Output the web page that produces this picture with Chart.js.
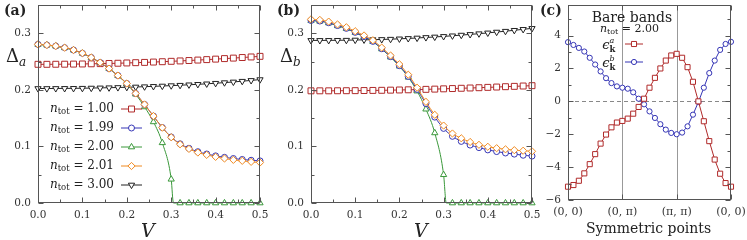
<!DOCTYPE html>
<html>
<head>
<meta charset="utf-8">
<script src="https://cdn.jsdelivr.net/npm/chart.js@4.4.1/dist/chart.umd.min.js"></script>
<style>
  body { margin: 0; background: #fff; }
  #wrap { position: relative; width: 747px; height: 240px; overflow: hidden; font-family: "DejaVu Serif", serif; color: #222; }
  canvas { position: absolute; left: 0; top: 0; }
  .lbl { position: absolute; white-space: nowrap; line-height: 1; }
  .pl { font-weight: bold; font-size: 14px; }
  .ax { font-size: 18px; }
  .vx { font-size: 19px; font-style: italic; }
  sub { font-size: 12px; font-style: italic; vertical-align: -4px; }
</style>
</head>
<body>
<div id="wrap">
  <canvas id="chartA" width="747" height="240"></canvas>
  <canvas id="chartB" width="747" height="240"></canvas>
  <canvas id="chartC" width="747" height="240"></canvas>
  <div class="lbl pl" style="left:4px;top:3px">(a)</div>
  <div class="lbl ax" style="left:6px;top:47px">&Delta;<sub>a</sub></div>
  <div class="lbl vx" style="left:141px;top:221px">V</div>
  <div class="lbl pl" style="left:277px;top:3px">(b)</div>
  <div class="lbl ax" style="left:280px;top:47px">&Delta;<sub>b</sub></div>
  <div class="lbl vx" style="left:414px;top:221px">V</div>
  <div class="lbl pl" style="left:540px;top:3px">(c)</div>
  <div class="lbl" style="left:586px;top:221px;font-size:14px">Symmetric points</div>
</div>
<script>
// V grid used in panels (a) and (b)
const vGrid = [0.00, 0.02, 0.04, 0.06, 0.08, 0.10, 0.12, 0.14, 0.16, 0.18, 0.20, 0.22, 0.24,
               0.26, 0.28, 0.30, 0.32, 0.34, 0.36, 0.38, 0.40, 0.42, 0.44, 0.46, 0.48, 0.50];

// panel (a): Delta_a
const deltaA_n100 = [0.2454, 0.2454, 0.2455, 0.2456, 0.2458, 0.2460, 0.2463, 0.2466, 0.2469, 0.2473, 0.2478, 0.2483, 0.2488,
                     0.2494, 0.2500, 0.2507, 0.2514, 0.2521, 0.2529, 0.2537, 0.2546, 0.2555, 0.2564, 0.2574, 0.2584, 0.2595];
const deltaA_n199 = [0.2807, 0.2795, 0.2777, 0.2748, 0.2707, 0.2650, 0.2575, 0.2485, 0.2378, 0.2255, 0.2114, 0.1938, 0.1744,
                     0.1538, 0.1335, 0.1168, 0.1047, 0.0968, 0.0908, 0.0867, 0.0834, 0.0808, 0.0787, 0.0770, 0.0756, 0.0745];
const deltaA_n200 = [0.2805, 0.2793, 0.2775, 0.2746, 0.2705, 0.2648, 0.2573, 0.2483, 0.2376, 0.2252, 0.2108, 0.1925, 0.1700,
                     0.1435, 0.1065, 0.0420, 0, 0, 0, 0, 0, 0, 0, 0, 0, 0];
const deltaA_n201 = [0.2807, 0.2795, 0.2777, 0.2748, 0.2707, 0.2650, 0.2575, 0.2485, 0.2378, 0.2255, 0.2114, 0.1938, 0.1744,
                     0.1538, 0.1333, 0.1163, 0.1039, 0.0957, 0.0893, 0.0851, 0.0816, 0.0787, 0.0763, 0.0746, 0.0728, 0.0716];
const deltaA_n300 = [0.2026, 0.2026, 0.2027, 0.2028, 0.2029, 0.2031, 0.2034, 0.2037, 0.2040, 0.2044, 0.2048, 0.2053, 0.2058,
                     0.2064, 0.2070, 0.2077, 0.2084, 0.2092, 0.2100, 0.2109, 0.2119, 0.2130, 0.2142, 0.2155, 0.2169, 0.2184];
const gapCloseA = 0.305;   // where the n=2.00 gap hits zero

// panel (b): Delta_b
const deltaB_n100 = [0.1985, 0.1985, 0.1985, 0.1986, 0.1987, 0.1988, 0.1990, 0.1992, 0.1994, 0.1997, 0.2000, 0.2003, 0.2007,
                     0.2011, 0.2015, 0.2020, 0.2025, 0.2030, 0.2035, 0.2040, 0.2046, 0.2052, 0.2058, 0.2064, 0.2070, 0.2076];
const deltaB_n199 = [0.3230, 0.3220, 0.3190, 0.3140, 0.3090, 0.3020, 0.2945, 0.2860, 0.2730, 0.2590, 0.2430, 0.2240, 0.2010,
                     0.1760, 0.1520, 0.1320, 0.1180, 0.1090, 0.1025, 0.0980, 0.0940, 0.0910, 0.0885, 0.0865, 0.0845, 0.0830];
const deltaB_n200 = [0.3225, 0.3215, 0.3185, 0.3135, 0.3085, 0.3015, 0.2940, 0.2855, 0.2725, 0.2580, 0.2420, 0.2225, 0.1980,
                     0.1660, 0.1240, 0.0500, 0, 0, 0, 0, 0, 0, 0, 0, 0, 0];
const deltaB_n201 = [0.3250, 0.3240, 0.3210, 0.3160, 0.3110, 0.3040, 0.2965, 0.2880, 0.2750, 0.2610, 0.2455, 0.2270, 0.2040,
                     0.1790, 0.1560, 0.1370, 0.1230, 0.1145, 0.1080, 0.1030, 0.0995, 0.0970, 0.0950, 0.0935, 0.0925, 0.0915];
const deltaB_n300 = [0.2877, 0.2877, 0.2878, 0.2879, 0.2881, 0.2884, 0.2887, 0.2890, 0.2894, 0.2899, 0.2905, 0.2912, 0.2920,
                     0.2929, 0.2938, 0.2948, 0.2959, 0.2971, 0.2983, 0.2996, 0.3010, 0.3025, 0.3040, 0.3056, 0.3073, 0.3090];
const gapCloseB = 0.306;

// panel (c): bare bands along (0,0)-(0,pi)-(pi,pi)-(0,0)
const kPath = [0, 1, 2, 3, 4, 5, 6, 7, 8, 9, 10, 11, 12, 13, 14, 15, 16, 17, 18, 19, 20,
               21, 22, 23, 24, 25, 26, 27, 28, 29, 30];
const bandA = [-5.19, -5.09, -4.83, -4.38, -3.82, -3.21, -2.57, -2.02, -1.58, -1.29, -1.19,
               -1.05, -0.75, -0.34, 0.16, 0.83, 1.43, 2.00, 2.48, 2.79, 2.89,
               2.65, 2.08, 1.19, 0.00, -1.21, -2.42, -3.54, -4.40, -4.97, -5.19];
const bandB = [3.60, 3.43, 3.25, 3.03, 2.65, 2.24, 1.82, 1.41, 1.11, 0.91, 0.83,
               0.77, 0.55, 0.16, -0.18, -0.61, -1.01, -1.39, -1.72, -1.92, -2.00,
               -1.90, -1.52, -0.81, -0.04, 0.83, 1.72, 2.48, 3.13, 3.49, 3.62];
const kTickPos = [0, 10, 20, 30];
const kTickLabels = ['(0, 0)', '(0, π)', '(π, π)', '(0, 0)'];

const nLabels = ['1.00', '1.99', '2.00', '2.01', '3.00'];
const RED = '#b02a2a', BLUE = '#3535b5', GREEN = '#3a983a', ORANGE = '#f08a20', BLACK = '#222';
const FRAME = '#555';
const serif = '"DejaVu Serif", serif';

function pts(xs, ys) {
  return xs.map((x, i) => ({x: x, y: ys[i]}));
}

function series(label, data, color, style, order, extra) {
  const r = style === 'circle' ? 3 : style === 'rect' ? 4.2 : 3.6;
  return Object.assign({
    label: label, data: data,
    borderColor: color, borderWidth: 1,
    pointStyle: style, pointRadius: r, pointBorderWidth: 1,
    pointBorderColor: color, pointBackgroundColor: '#fff',
    cubicInterpolationMode: 'monotone', clip: false, order: order
  }, extra || {});
}

// green curve: markers on the grid, plus an unmarked point where the gap closes
function gapSeries(ys, closeAt) {
  const data = pts(vGrid, ys);
  let k = data.findIndex(p => p.x > closeAt);
  data.splice(k, 0, {x: closeAt, y: 0});
  const radius = data.map((p, i) => i === k ? 0 : 3.6);
  return {data, radius};
}

// parts with stay:true do not advance the pen (used for stacked super/subscripts)
function drawRich(ctx, parts, xRight, y) {
  let w = 0;
  parts.forEach(p => { ctx.font = p.font; if (!p.stay) w += ctx.measureText(p.t).width; });
  let x = xRight - w;
  parts.forEach(p => {
    ctx.font = p.font;
    ctx.fillText(p.t, x, y + (p.dy || 0));
    if (!p.stay) x += ctx.measureText(p.t).width;
  });
}

function marker(ctx, color, style, r, rot, x, y, x0, x1) {
  ctx.save();
  ctx.strokeStyle = color; ctx.lineWidth = 1;
  ctx.beginPath(); ctx.moveTo(x0, y); ctx.lineTo(x1, y); ctx.stroke();
  ctx.fillStyle = '#fff';
  Chart.helpers.drawPoint(ctx, {pointStyle: style, radius: r, rotation: rot || 0, borderWidth: 1}, x, y);
  ctx.restore();
}

// frame, inward ticks, extra lines and legends
const decor = {
  id: 'decor',
  beforeDatasetsDraw(chart, args, o) {
    const ctx = chart.ctx, a = chart.chartArea;
    ctx.save();
    if (o.vlines) {
      ctx.strokeStyle = '#999'; ctx.lineWidth = 1;
      o.vlines.forEach(v => {
        const x = Math.round(chart.scales.x.getPixelForValue(v)) + 0.5;
        ctx.beginPath(); ctx.moveTo(x, a.top); ctx.lineTo(x, a.bottom); ctx.stroke();
      });
    }
    if (o.zeroLine) {
      const y = Math.round(chart.scales.y.getPixelForValue(0)) + 0.5;
      ctx.strokeStyle = '#888'; ctx.setLineDash([4, 3]);
      ctx.beginPath(); ctx.moveTo(a.left, y); ctx.lineTo(a.right, y); ctx.stroke();
    }
    ctx.restore();
  },
  afterDraw(chart, args, o) {
    const ctx = chart.ctx, a = chart.chartArea;
    const L = Math.round(a.left) + 0.5, R = Math.round(a.right) - 0.5;
    const T = Math.round(a.top) + 0.5, B = Math.round(a.bottom) - 0.5;
    ctx.save();
    ctx.strokeStyle = FRAME; ctx.lineWidth = 1;
    ctx.beginPath();
    o.xTicks.forEach(t => {
      const x = Math.round(chart.scales.x.getPixelForValue(t.v)) + 0.5;
      ctx.moveTo(x, B); ctx.lineTo(x, B - t.len);
      ctx.moveTo(x, T); ctx.lineTo(x, T + t.len);
    });
    o.yTicks.forEach(t => {
      const y = Math.round(chart.scales.y.getPixelForValue(t.v)) + 0.5;
      ctx.moveTo(L, y); ctx.lineTo(L + t.len, y);
      ctx.moveTo(R, y); ctx.lineTo(R - t.len, y);
    });
    ctx.stroke();
    ctx.strokeRect(L, T, R - L, B - T);

    ctx.fillStyle = '#222'; ctx.textBaseline = 'middle';
    (o.legend || []).forEach(e => {
      drawRich(ctx, e.parts, e.textRight, e.ty || e.y);
      marker(ctx, e.color, e.style, e.r, e.rot, (e.x0 + e.x1) / 2, e.y, e.x0, e.x1);
    });
    (o.texts || []).forEach(e => {
      ctx.textAlign = 'center'; ctx.font = e.font; ctx.fillText(e.t, e.x, e.y);
    });
    (o.rich || []).forEach(e => { ctx.textAlign = 'left'; drawRich(ctx, e.parts, e.right, e.y); });
    ctx.restore();
  }
};

function tickList(min, max, step, majorEvery) {
  const out = [];
  const n = Math.round((max - min) / step);
  for (let i = 0; i <= n; i++) {
    out.push({v: min + i * step, len: i % majorEvery === 0 ? 5 : 3});
  }
  return out;
}

function frameScales(xMin, xMax, yMin, yMax, xStep, yStep, xLabel, yLabel, leftW, bottomH, xFont) {
  const fit = w => s => { s.width = w; s.paddingTop = 0; s.paddingBottom = 0; };
  const fitX = h => s => { s.height = h; s.paddingLeft = 0; s.paddingRight = 0; };
  return {
    x: {
      type: 'linear', min: xMin, max: xMax,
      grid: {display: false, drawTicks: false}, border: {display: false},
      ticks: {stepSize: xStep, padding: 6, color: '#333', maxRotation: 0, autoSkip: false,
              font: {family: serif, size: xFont || 10.5}, callback: xLabel},
      afterFit: fitX(bottomH)
    },
    y: {
      type: 'linear', min: yMin, max: yMax,
      grid: {display: false, drawTicks: false}, border: {display: false},
      ticks: {stepSize: yStep, padding: 7, color: '#333', autoSkip: false,
              font: {family: serif, size: 10.5}, callback: yLabel},
      afterFit: fit(leftW)
    }
  };
}

const vLabel = v => (Math.round(v * 100) % 10 === 0 ? v.toFixed(1) : null);

function nParts(n, big, small) {
  return [
    {t: 'n', font: 'italic ' + big + 'px ' + serif},
    {t: 'tot', font: small + 'px ' + serif, dy: 3},
    {t: ' = ' + n, font: big + 'px ' + serif}
  ];
}

function epsParts(band) {
  return [
    {t: 'ϵ', font: 'italic 13px ' + serif},
    {t: band, font: 'italic 8px ' + serif, dy: -5, stay: true},
    {t: 'k', font: 'bold 8.5px ' + serif, dy: 4},
    {t: ' ', font: '8px ' + serif}
  ];
}

function legendA() {
  const rows = [109, 128, 147, 166, 185];
  const st = [[RED, 'rect', 4.2, 0], [BLUE, 'circle', 3, 0], [GREEN, 'triangle', 3.6, 0],
              [ORANGE, 'rectRot', 3.6, 0], [BLACK, 'triangle', 3.6, 180]];
  return nLabels.map((n, i) => ({
    parts: nParts(n, 12, 8.5), textRight: 114, y: rows[i],
    color: st[i][0], style: st[i][1], r: st[i][2], rot: st[i][3], x0: 121, x1: 142
  }));
}

function deltaChart(id, left, right, ys, gapClose) {
  const g = gapSeries(ys[2], gapClose);
  return new Chart(document.getElementById(id), {
    type: 'line',
    data: {
      datasets: [
        series('n=2.01', pts(vGrid, ys[3]), ORANGE, 'rectRot', 0),
        series('n=1.99', pts(vGrid, ys[1]), BLUE, 'circle', 1),
        series('n=2.00', g.data, GREEN, 'triangle', 2, {pointRadius: g.radius}),
        series('n=1.00', pts(vGrid, ys[0]), RED, 'rect', 3),
        series('n=3.00', pts(vGrid, ys[4]), BLACK, 'triangle', 4, {pointRotation: 180})
      ]
    },
    options: {
      responsive: false, animation: false, devicePixelRatio: 1,
      layout: {padding: {left: left - 38, right: 747 - right, top: 4, bottom: 0}},
      scales: frameScales(0, 0.5, 0, 0.35, 0.05, 0.05, vLabel,
                          v => (Math.round(v * 100) % 10 === 0 ? v.toFixed(1) : null), 38, 37),
      plugins: {
        legend: {display: false}, tooltip: {enabled: false},
        decor: {
          xTicks: tickList(0, 0.5, 0.05, 2),
          yTicks: tickList(0, 0.35, 0.05, 2),
          legend: id === 'chartA' ? legendA() : []
        }
      }
    },
    plugins: [decor]
  });
}

Chart.defaults.font.family = serif;

deltaChart('chartA', 38, 260, [deltaA_n100, deltaA_n199, deltaA_n200, deltaA_n201, deltaA_n300], gapCloseA);
deltaChart('chartB', 311, 532, [deltaB_n100, deltaB_n199, deltaB_n200, deltaB_n201, deltaB_n300], gapCloseB);

// panel (c)
const cYTicks = [];
for (let v = -6; v <= 5; v++) cYTicks.push({v: v, len: v % 2 === 0 ? 5 : 3});

new Chart(document.getElementById('chartC'), {
  type: 'line',
  data: {
    datasets: [
      series('a', pts(kPath, bandA), RED, 'rect', 0, {pointRadius: 3.6, cubicInterpolationMode: 'default', tension: 0}),
      series('b', pts(kPath, bandB), BLUE, 'circle', 1, {pointRadius: 2.6, cubicInterpolationMode: 'default', tension: 0})
    ]
  },
  options: {
    responsive: false, animation: false, devicePixelRatio: 1,
    layout: {padding: {left: 568 - 38, right: 747 - 731, top: 4, bottom: 0}},
    scales: frameScales(0, 30, -6, 5.86, 10, 1,
                        v => { const i = kTickPos.indexOf(v); return i < 0 ? null : kTickLabels[i]; },
                        v => (Number.isInteger(v) && v % 2 === 0 ? String(v).replace('-', '\u2212') : null),
                        38, 40, 11),
    plugins: {
      legend: {display: false}, tooltip: {enabled: false},
      decor: {
        vlines: [10, 20], zeroLine: true,
        xTicks: kTickPos.map(v => ({v: v, len: 5})),
        yTicks: cYTicks,
        texts: [{t: 'Bare bands', font: '14px ' + serif, x: 632, y: 18}],
        rich: [{parts: nParts('2.00', 11, 8), right: 659, y: 29}],
        legend: [
          {parts: epsParts('a'), textRight: 618, y: 44, ty: 46, color: RED, style: 'rect', r: 3.6, rot: 0, x0: 625, x1: 643},
          {parts: epsParts('b'), textRight: 618, y: 62, ty: 64, color: BLUE, style: 'circle', r: 2.6, rot: 0, x0: 625, x1: 643}
        ]
      }
    }
  },
  plugins: [decor]
});
</script>
</body>
</html>
